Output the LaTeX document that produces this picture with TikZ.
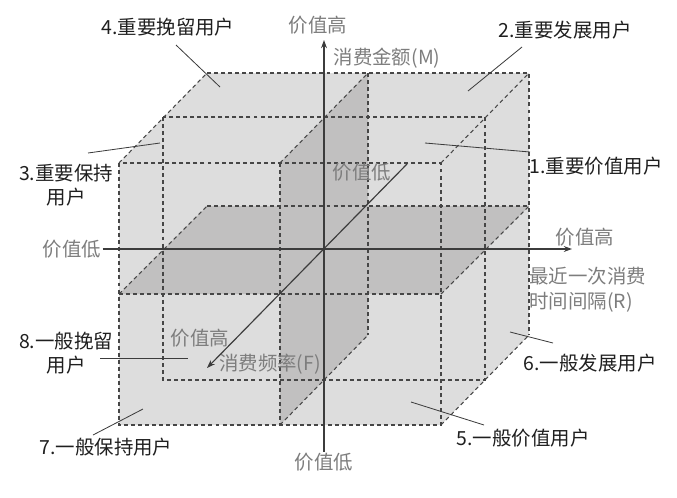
\documentclass[tikz,border=0pt]{standalone}
\usepackage{fontspec}
\setmainfont{Noto Sans CJK SC}
\usetikzlibrary{arrows.meta,positioning}

\definecolor{cubegray}{RGB}{221,221,221}
\definecolor{planegray}{RGB}{193,192,192}
\definecolor{edgegray}{RGB}{70,70,70}
\definecolor{axisgray}{RGB}{60,60,60}
\definecolor{labelgray}{RGB}{125,125,125}

\begin{document}
\begin{tikzpicture}[
    x=0.03cm, y=-0.03cm,
    every node/.style={font=\fontsize{16.6}{21}\selectfont, inner sep=1pt},
    seg/.style={text=black!88, align=center},
    axlabel/.style={text=labelgray, align=left},
    cubeedge/.style={edgegray, line width=0.9pt, dash pattern=on 3.4pt off 2.6pt},
    axisline/.style={axisgray, line width=1pt, -{Stealth[length=7pt,width=5pt]}},
    leader/.style={axisgray, line width=0.7pt}
]
\useasboundingbox (0,0) rectangle (677,497);

% Cube body and the two middle planes
\fill[cubegray] (119,425) -- (119,163) -- (207,73) -- (529,73) -- (529,335) -- (441,425) -- cycle;
\fill[planegray] (280,163) -- (368,73) -- (368,335) -- (280,425) -- cycle;
\fill[planegray] (119,294) -- (207,206) -- (529,206) -- (441,294) -- cycle;

% Dashed edges
\draw[cubeedge] (119,163) rectangle (441,425);
\draw[cubeedge] (163,117) rectangle (485,380);
\draw[cubeedge] (207,73) -- (529,73) -- (529,335);
\draw[cubeedge] (119,163) -- (207,73);
\draw[cubeedge] (441,163) -- (529,73);
\draw[cubeedge] (441,425) -- (529,335);
\draw[cubeedge] (280,163) -- (280,425);
\draw[cubeedge] (368,73) -- (368,335);
\draw[cubeedge] (280,163) -- (368,73);
\draw[cubeedge] (280,425) -- (368,335);
\draw[cubeedge] (119,294) -- (441,294);
\draw[cubeedge] (207,206) -- (529,206);
\draw[cubeedge] (119,294) -- (207,206);
\draw[cubeedge] (441,294) -- (529,206);

% Axes
\node[axlabel] (mhigh) at (318,25) {价值高};
\node[axlabel] (mtitle) at (387,58) {消费金额(M)};
\node[axlabel] (mlow) at (324,462) {价值低};
\coordinate (mtip) at (324,40);
\draw[axisline] (mlow.north) -- (mtip);

\node[axlabel] (rlow) at (72,249) {价值低};
\node[axlabel] (rhigh) at (585,237) {价值高};
\node[axlabel, anchor=west] (rtitle) at (528,290) {最近一次消费\\时间间隔(R)};
\coordinate (rtip) at (572,249);
\draw[axisline] (rlow.east) -- (rtip);

\node[axlabel] (flow) at (362,172) {价值低};
\node[axlabel] (fhigh) at (200,338) {价值高};
\node[axlabel] (ftitle) at (270,364) {消费频率(F)};
\coordinate (fstart) at (407,164);
\coordinate (ftip) at (207,368);
\draw[axisline] (fstart) -- (ftip);

% Segments
\node[seg] (seg1) at (596,166) {1.重要价值用户};
\node[seg] (seg2) at (565,30) {2.重要发展用户};
\node[seg] (seg3) at (66,185) {3.重要保持\\用户};
\node[seg] (seg4) at (168,27) {4.重要挽留用户};
\node[seg] (seg5) at (523,438) {5.一般价值用户};
\node[seg] (seg6) at (590,363) {6.一般发展用户};
\node[seg] (seg7) at (106,447) {7.一般保持用户};
\node[seg] (seg8) at (66,353) {8.一般挽留\\用户};

% Leaders
\coordinate (tail1) at (530,152); \coordinate (cell1) at (425,143);
\coordinate (tail2) at (522,47);  \coordinate (cell2) at (468,91);
\coordinate (tail3) at (88,153);  \coordinate (cell3) at (160,143);
\coordinate (tail4) at (176,45);  \coordinate (cell4) at (220,87);
\coordinate (tail5) at (484,425); \coordinate (cell5) at (411,402);
\coordinate (tail6) at (553,343); \coordinate (cell6) at (510,332);
\coordinate (tail7) at (93,435);  \coordinate (cell7) at (143,409);
\coordinate (tail8) at (100,358); \coordinate (cell8) at (188,358);
\foreach \i in {1,...,8}
    \draw[leader] (tail\i) -- (cell\i);

\end{tikzpicture}
\end{document}
